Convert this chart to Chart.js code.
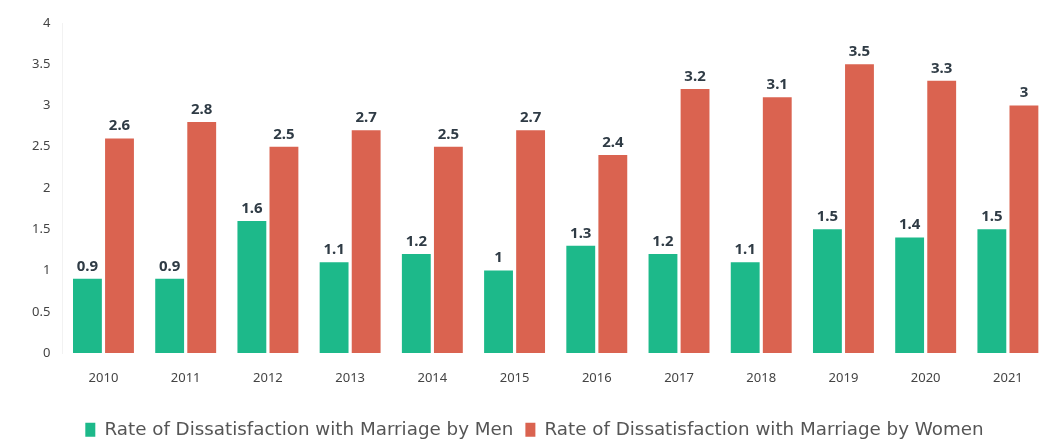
<!DOCTYPE html>
<html>
<head>
<meta charset="utf-8">
<script src="https://cdn.jsdelivr.net/npm/chart.js@4"></script>
<style>
  html, body { margin: 0; padding: 0; background: #fff; }
  #wrap { width: 1051px; height: 441px; }
</style>
</head>
<body>
<div id="wrap"><canvas id="chart"></canvas></div>
<script>
const years = ['2010', '2011', '2012', '2013', '2014', '2015', '2016', '2017', '2018', '2019', '2020', '2021'];
const menRate = [0.9, 0.9, 1.6, 1.1, 1.2, 1, 1.3, 1.2, 1.1, 1.5, 1.4, 1.5];
const womenRate = [2.6, 2.8, 2.5, 2.7, 2.5, 2.7, 2.4, 3.2, 3.1, 3.5, 3.3, 3];
const yTicks = [0, 0.5, 1, 1.5, 2, 2.5, 3, 3.5, 4];

const FONT = "'Noto Sans', sans-serif";

// value labels above each bar
const barLabels = {
  id: 'barLabels',
  afterDatasetsDraw(chart) {
    const ctx = chart.ctx;
    ctx.save();
    ctx.font = "bold 15px " + FONT;
    ctx.fillStyle = '#2f3b45';
    ctx.textAlign = 'center';
    ctx.textBaseline = 'bottom';
    chart.data.datasets.forEach((ds, i) => {
      chart.getDatasetMeta(i).data.forEach((bar, j) => {
        ctx.fillText(String(ds.data[j]), bar.x, bar.y - 5);
      });
    });
    ctx.restore();
  }
};

new Chart(document.getElementById('chart'), {
  type: 'bar',
  data: {
    labels: years,
    datasets: [
      {
        label: 'Rate of Dissatisfaction with Marriage by Men',
        data: menRate,
        backgroundColor: '#1db98a'
      },
      {
        label: 'Rate of Dissatisfaction with Marriage by Women',
        data: womenRate,
        backgroundColor: '#da6350'
      }
    ]
  },
  options: {
    responsive: true,
    maintainAspectRatio: false,
    animation: false,
    categoryPercentage: 0.78,
    barPercentage: 0.9,
    layout: { padding: { left: 20, right: 2, top: 23, bottom: -8 } },
    plugins: {
      tooltip: { enabled: false },
      legend: {
        position: 'bottom',
        labels: {
          boxWidth: 10,
          boxHeight: 14,
          padding: 12,
          color: '#555',
          font: { family: "'DejaVu Sans', sans-serif", size: 18.3 }
        }
      }
    },
    scales: {
      x: {
        // extra room between the year labels and the legend
        afterFit(axis) { axis.height += 6; },
        grid: { display: false, drawTicks: false },
        border: { display: false },
        ticks: {
          color: '#444',
          padding: 17,
          font: { family: FONT, size: 13 }
        }
      },
      y: {
        min: 0,
        max: 4,
        afterBuildTicks(axis) {
          axis.ticks = yTicks.map(v => ({ value: v }));
        },
        grid: { display: false, drawTicks: false },
        border: { display: true, color: '#f2f2f2' },
        ticks: {
          color: '#444',
          padding: 12,
          font: { family: FONT, size: 13 },
          callback: v => String(v)
        }
      }
    }
  },
  plugins: [barLabels]
});
</script>
</body>
</html>
